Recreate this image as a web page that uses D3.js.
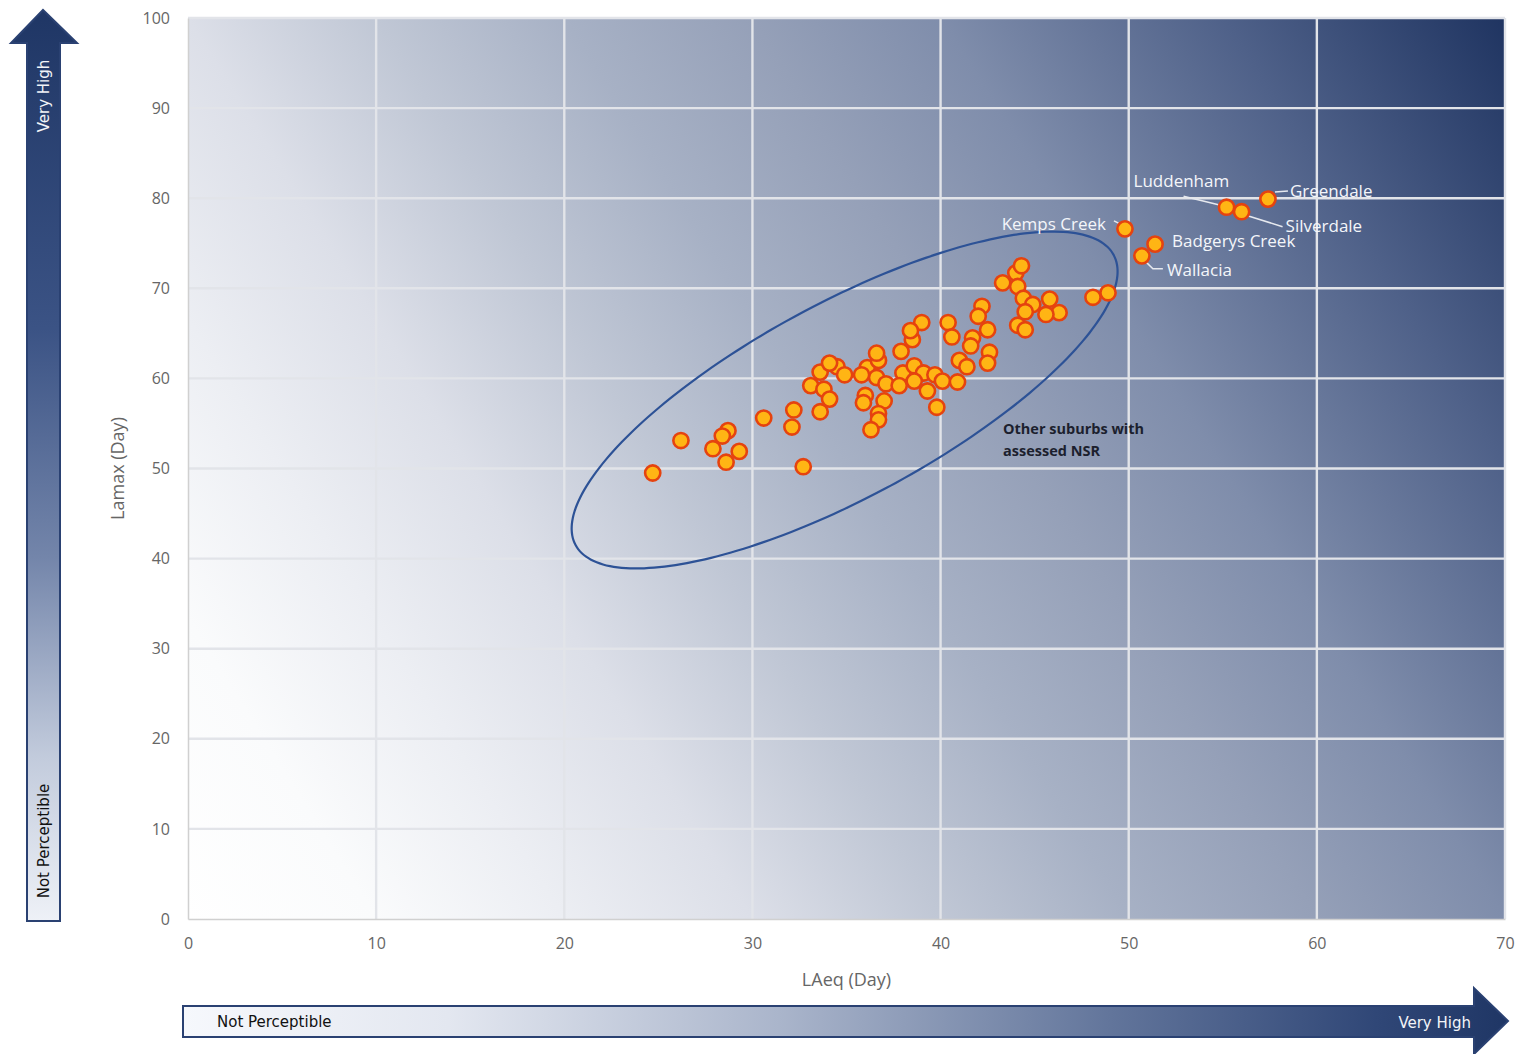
<!DOCTYPE html>
<html>
<head>
<meta charset="utf-8">
<script src="https://cdn.jsdelivr.net/npm/d3@7"></script>
<style>
  html, body { margin: 0; padding: 0; background: #ffffff; }
  svg { display: block; }
</style>
</head>
<body>
<svg id="chart" width="1517" height="1054"></svg>
<script>
// LAeq (Day) and LAmax (Day) for the suburbs without a callout
const laeq = [
  24.7, 26.2, 27.9, 28.7, 28.4, 29.3, 28.6, 30.6, 32.2, 32.1,
  32.7, 33.6, 33.1, 33.8, 34.1, 33.6, 34.5, 34.9, 34.1, 36.1,
  36.7, 36.6, 36.6, 35.8, 37.1, 36.0, 35.9, 37.0, 36.7, 36.7,
  36.3, 37.9, 38.5, 38.0, 38.6, 39.1, 38.6, 39.3, 37.8, 39.7,
  40.1, 39.8, 40.9, 41.0, 43.3, 44.0, 44.3, 44.1, 44.4, 44.9,
  45.8, 46.3, 45.6, 44.5, 44.1, 44.5, 42.2, 42.0, 42.5, 41.7,
  41.6, 42.6, 42.5, 40.4, 40.6, 39.0, 38.4, 41.4, 48.1, 48.9
];
const lamax = [
  49.5, 53.1, 52.2, 54.2, 53.6, 51.9, 50.7, 55.6, 56.5, 54.6,
  50.2, 56.3, 59.2, 58.8, 57.7, 60.7, 61.3, 60.4, 61.7, 61.2,
  62.0, 62.8, 60.1, 60.4, 59.4, 58.1, 57.3, 57.5, 56.1, 55.4,
  54.3, 63.0, 64.3, 60.6, 61.4, 60.6, 59.7, 58.6, 59.2, 60.4,
  59.7, 56.8, 59.6, 62.0, 70.6, 71.7, 72.5, 70.2, 68.9, 68.2,
  68.8, 67.3, 67.1, 67.4, 65.9, 65.4, 68.0, 66.9, 65.4, 64.5,
  63.6, 62.9, 61.7, 66.2, 64.6, 66.2, 65.3, 61.3, 69.0, 69.5
];

// Suburbs with a callout
const namedSuburbs = ["Kemps Creek", "Wallacia", "Badgerys Creek", "Luddenham", "Silverdale", "Greendale"];
const namedLaeq    = [49.8, 50.7, 51.4, 55.2, 56.0, 57.4];
const namedLamax   = [76.6, 73.6, 74.9, 79.0, 78.5, 79.9];

// Axis ticks
const xTicks = [0, 10, 20, 30, 40, 50, 60, 70];
const yTicks = [0, 10, 20, 30, 40, 50, 60, 70, 80, 90, 100];

// Ring drawn round the bulk of the assessed suburbs (centre, half-axes in data units)
const ringCentre = [34.9, 57.6];
const ringMajor  = [14.3, 16.1];
const ringMinor  = [2.45, -9.5];

// Callout placement (pixel offsets from each marker) and leader polylines
const calloutLayout = {
  "Kemps Creek":    { dx: -19, dy: 1,   anchor: "end",   leader: [[-11, -8], [-3, -4]] },
  "Wallacia":       { dx: 25,  dy: 20,  anchor: "start", leader: [[3, 5], [11, 13], [21, 13]] },
  "Badgerys Creek": { dx: 17,  dy: 3,   anchor: "start", leader: null },
  "Luddenham":      { dx: -93, dy: -20, anchor: "start", leader: [[-43, -11], [-6, -2]] },
  "Silverdale":     { dx: 44,  dy: 20,  anchor: "start", leader: [[6, 4], [41, 15]] },
  "Greendale":      { dx: 22,  dy: -2,  anchor: "start", leader: [[7, -7], [20, -8]] }
};

const svg = d3.select("#chart");
const defs = svg.append("defs");

const plot = { left: 188, right: 1505, top: 18, bottom: 919 };

const x = d3.scaleLinear().domain([0, 70]).range([plot.left, plot.right]);
const y = d3.scaleLinear().domain([0, 100]).range([plot.bottom, plot.top]);

// Background: white in the quiet corner, deep navy in the loud corner
const bg = defs.append("linearGradient")
  .attr("id", "bgGrad")
  .attr("gradientUnits", "userSpaceOnUse")
  .attr("x1", plot.left).attr("y1", plot.bottom)
  .attr("x2", plot.left + 1351).attr("y2", plot.bottom - 848);
[
  [0.00, "#ffffff"], [0.10, "#fafbfc"], [0.20, "#eceef3"], [0.30, "#dcdfe8"],
  [0.40, "#c0c7d5"], [0.50, "#a7b1c5"], [0.60, "#95a0b8"], [0.70, "#7f8dab"],
  [0.85, "#4f6189"], [1.00, "#1f3461"]
].forEach(([o, c]) => bg.append("stop").attr("offset", o).attr("stop-color", c));

svg.append("rect")
  .attr("x", plot.left).attr("y", plot.top)
  .attr("width", plot.right - plot.left).attr("height", plot.bottom - plot.top)
  .attr("fill", "url(#bgGrad)");

// Gridlines
const grid = svg.append("g");
grid.selectAll("line.h").data(yTicks.filter(d => d > 0)).join("line")
  .attr("x1", plot.left).attr("x2", plot.right)
  .attr("y1", d => y(d)).attr("y2", d => y(d))
  .attr("stroke", "#e2e4e9").attr("stroke-width", 2.4);
grid.selectAll("line.v").data(xTicks.filter(d => d > 0)).join("line")
  .attr("y1", plot.top).attr("y2", plot.bottom)
  .attr("x1", d => x(d)).attr("x2", d => x(d))
  .attr("stroke", "#e2e4e9").attr("stroke-width", 2.4);

// Axes
const tickFont = "'Open Sans', sans-serif";
const xAxis = svg.append("g")
  .attr("transform", `translate(0,${plot.bottom})`)
  .call(d3.axisBottom(x).tickValues(xTicks).tickSize(0).tickPadding(19));
const yAxis = svg.append("g")
  .attr("transform", `translate(${plot.left},0)`)
  .call(d3.axisLeft(y).tickValues(yTicks).tickSize(0).tickPadding(18));
[xAxis, yAxis].forEach(g => {
  g.select(".domain").attr("stroke", "#d0d0d0").attr("stroke-width", 1.5);
  g.selectAll("text")
    .attr("fill", "#666666")
    .style("font-family", tickFont)
    .style("font-size", "16px");
});

// Axis titles
svg.append("text")
  .attr("x", (plot.left + plot.right) / 2).attr("y", 986)
  .attr("text-anchor", "middle")
  .attr("fill", "#666666")
  .style("font-family", tickFont).style("font-size", "18px")
  .text("LAeq (Day)");
svg.append("text")
  .attr("transform", `translate(124,${(plot.top + plot.bottom) / 2}) rotate(-90)`)
  .attr("text-anchor", "middle")
  .attr("fill", "#666666")
  .style("font-family", tickFont).style("font-size", "18px")
  .text("Lamax (Day)");

// Ring
const ringPts = d3.range(0, 361, 3).map(a => {
  const t = a * Math.PI / 180;
  return [
    ringCentre[0] + ringMajor[0] * Math.cos(t) + ringMinor[0] * Math.sin(t),
    ringCentre[1] + ringMajor[1] * Math.cos(t) + ringMinor[1] * Math.sin(t)
  ];
});
svg.append("path")
  .datum(ringPts)
  .attr("d", d3.line().x(d => x(d[0])).y(d => y(d[1])).curve(d3.curveCardinalClosed))
  .attr("fill", "none")
  .attr("stroke", "#2d5296")
  .attr("stroke-width", 2.2);

svg.append("text")
  .attr("x", 1003).attr("y", 434)
  .attr("fill", "#1c1f2e")
  .style("font-family", "'Open Sans', sans-serif").style("font-size", "14.5px").style("font-weight", "bold")
  .selectAll("tspan").data(["Other suburbs with", "assessed NSR"]).join("tspan")
  .attr("x", 1003).attr("dy", (d, i) => i === 0 ? 0 : 22)
  .text(d => d);

// Markers
const markerFill = "#ffb514", markerStroke = "#e5430f";
svg.append("g").selectAll("circle")
  .data(laeq.map((v, i) => [v, lamax[i]]))
  .join("circle")
  .attr("cx", d => x(d[0])).attr("cy", d => y(d[1]))
  .attr("r", 7.6)
  .attr("fill", markerFill).attr("stroke", markerStroke).attr("stroke-width", 2.6);

// Called-out suburbs
const named = namedSuburbs.map((n, i) => ({ name: n, lx: namedLaeq[i], ly: namedLamax[i] }));
const callouts = svg.append("g");
named.forEach(d => {
  const px = x(d.lx), py = y(d.ly);
  const lay = calloutLayout[d.name];
  if (lay.leader) {
    callouts.append("polyline")
      .attr("points", lay.leader.map(p => [px + p[0], py + p[1]].join(",")).join(" "))
      .attr("fill", "none").attr("stroke", "#e6e9ef").attr("stroke-width", 1.5);
  }
  callouts.append("text")
    .attr("x", px + lay.dx).attr("y", py + lay.dy)
    .attr("text-anchor", lay.anchor)
    .attr("fill", "#f4f6fa")
    .style("font-family", "'Open Sans', sans-serif").style("font-size", "17px")
    .text(d.name);
});
callouts.selectAll("circle").data(named).join("circle")
  .attr("cx", d => x(d.lx)).attr("cy", d => y(d.ly))
  .attr("r", 7.6)
  .attr("fill", markerFill).attr("stroke", markerStroke).attr("stroke-width", 2.6);

// Direction arrows
const vGrad = defs.append("linearGradient").attr("id", "vGrad")
  .attr("x1", 0).attr("y1", 0).attr("x2", 0).attr("y2", 1);
[[0, "#1f3665"], [0.35, "#3b5385"], [0.6, "#7385aa"], [0.82, "#c2cbdc"], [1, "#eef1f7"]]
  .forEach(([o, c]) => vGrad.append("stop").attr("offset", o).attr("stop-color", c));
const hGrad = defs.append("linearGradient").attr("id", "hGrad")
  .attr("x1", 0).attr("y1", 0).attr("x2", 1).attr("y2", 0);
[[0, "#f6f8fc"], [0.2, "#e3e7f0"], [0.45, "#aab5cb"], [0.7, "#62759b"], [0.9, "#304777"], [1, "#1f3665"]]
  .forEach(([o, c]) => hGrad.append("stop").attr("offset", o).attr("stop-color", c));

const arrowStroke = "#2a4172";
// vertical arrow (LAmax)
svg.append("path")
  .attr("d", "M27,921 L27,43 L11,43 L43,10 L77,43 L60,43 L60,921 Z")
  .attr("fill", "url(#vGrad)").attr("stroke", arrowStroke).attr("stroke-width", 2);
// horizontal arrow (LAeq)
svg.append("path")
  .attr("d", "M183,1006 L1474,1006 L1474,988 L1508,1021 L1474,1054 L1474,1037 L183,1037 Z")
  .attr("fill", "url(#hGrad)").attr("stroke", arrowStroke).attr("stroke-width", 2);

const arrowFont = "'DejaVu Sans', Verdana, sans-serif";
svg.append("text")
  .attr("transform", "translate(49,96) rotate(-90)")
  .attr("text-anchor", "middle")
  .attr("fill", "#f2f4f8")
  .style("font-family", arrowFont).style("font-size", "15px")
  .text("Very High");
svg.append("text")
  .attr("transform", "translate(49,841) rotate(-90)")
  .attr("text-anchor", "middle")
  .attr("fill", "#111111")
  .style("font-family", arrowFont).style("font-size", "15px")
  .text("Not Perceptible");
svg.append("text")
  .attr("x", 217).attr("y", 1027)
  .attr("fill", "#111111")
  .style("font-family", arrowFont).style("font-size", "15px")
  .text("Not Perceptible");
svg.append("text")
  .attr("x", 1471).attr("y", 1028)
  .attr("text-anchor", "end")
  .attr("fill", "#f2f4f8")
  .style("font-family", arrowFont).style("font-size", "15px")
  .text("Very High");
</script>
</body>
</html>
